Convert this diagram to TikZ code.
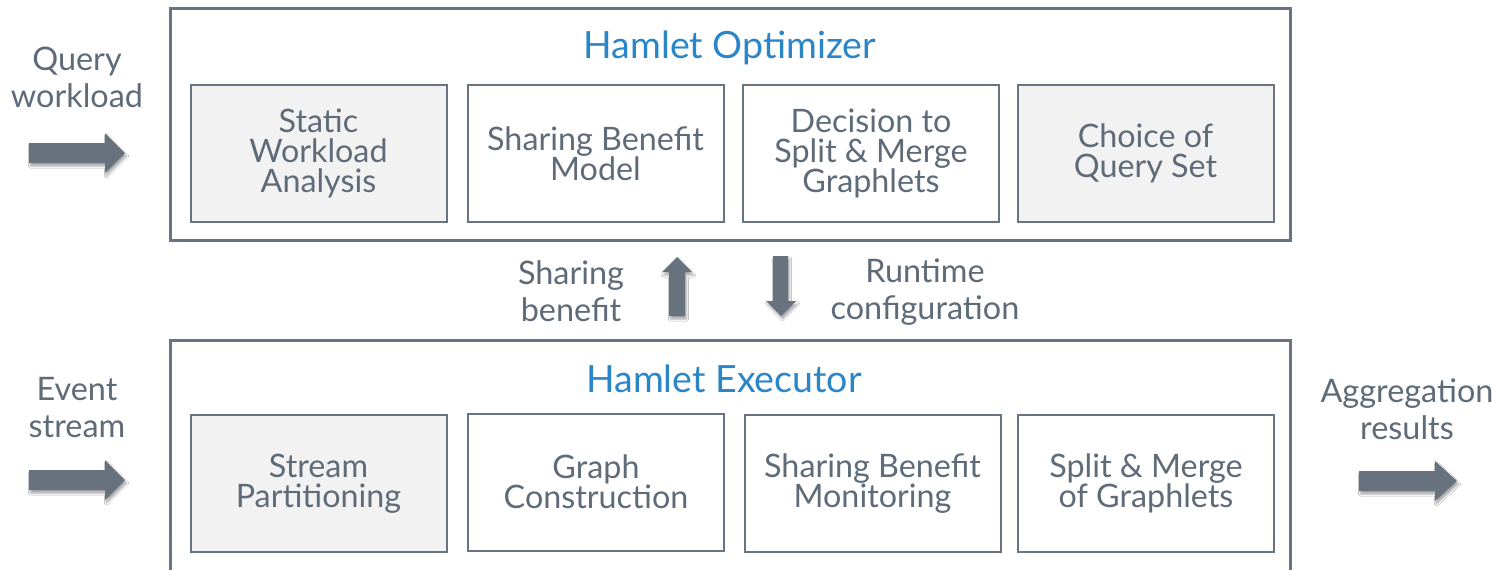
\documentclass[tikz,border=0pt]{standalone}
\usepackage{fontspec}
\setmainfont{Lato}
\usetikzlibrary{shadows.blur}

\definecolor{inktext}{HTML}{5F6B78}
\definecolor{inkline}{HTML}{6A7481}
\definecolor{inkarrow}{HTML}{67727E}
\definecolor{panelfill}{HTML}{F2F2F2}
\definecolor{titleblue}{HTML}{2A86C8}

\tikzset{
  frame/.style={draw=inkline, line width=3pt, fill=white, inner sep=0pt},
  module/.style={draw=inkline, line width=2pt, inner sep=0pt,
    minimum width=256pt, minimum height=137pt, text=inktext,
    font=\fontsize{32.3}{30}\selectfont, align=center},
  shaded/.style={module, fill=panelfill},
  plain/.style={module, fill=white},
  heading/.style={text=titleblue, font=\fontsize{37.5}{40}\selectfont, inner sep=0pt},
  caption/.style={text=inktext, font=\fontsize{32.4}{37}\selectfont, align=center, inner sep=0pt},
  blockarrow/.style={fill=inkarrow, draw=none,
    blur shadow={shadow xshift=1.5pt, shadow yshift=-3pt, shadow blur steps=6, shadow opacity=35}},
}

\begin{document}
\begin{tikzpicture}[x=1pt, y=-1pt]
  \clip (0,0) rectangle (1497,570);
  \fill[white] (0,0) rectangle (1497,570);

  % optimizer frame and its modules
  \node[frame, minimum width=1120pt, minimum height=232pt] (opt) at (730,124) {};
  \node[heading] (optT) at (730,48) {Hamlet Optimizer};
  \node[shaded] (swa) at (318.5,153.5) {Static\\Workload\\Analysis};
  \node[plain]  (sbm) at (595.5,153.5) {Sharing Benefit\\Model};
  \node[plain]  (dsm) at (871,153.5) {Decision to\\Split \& Merge\\Graphlets};
  \node[shaded] (cqs) at (1145.5,153.5) {Choice of\\Query Set};

  % executor frame and its modules (runs past the lower edge)
  \node[frame, minimum width=1120pt, minimum height=260pt] (exe) at (730,470) {};
  \node[heading] (exeT) at (724,379) {Hamlet Executor};
  \node[shaded] (spp) at (318.5,483.5) {Stream\\Partitioning};
  \node[plain]  (gcn) at (596,482) {Graph\\Construction};
  \node[plain]  (sbmo) at (872.5,483.5) {Sharing Benefit\\Monitoring};
  \node[plain]  (smg) at (1146,483.5) {Split \& Merge\\of Graphlets};

  % side captions
  \node[caption] (qw) at (77,77) {Query\\workload};
  \node[caption] (es) at (77,408) {Event\\stream};
  \node[caption] (ar) at (1407,409) {Aggregation\\results};
  \node[caption] (sb) at (571,291) {Sharing\\benefit};
  \node[caption] (rc) at (925,292) {Runtime\\configuration};

  % block arrows
  \fill[blockarrow] (29,143) -- (105,143) -- (105,133) -- (125,153) -- (105,173) -- (105,163) -- (29,163) -- cycle;
  \fill[blockarrow] (29,470) -- (105,470) -- (105,460) -- (125,480) -- (105,500) -- (105,490) -- (29,490) -- cycle;
  \fill[blockarrow] (1359,471) -- (1435,471) -- (1435,461) -- (1457,481) -- (1435,501) -- (1435,491) -- (1359,491) -- cycle;
  \fill[blockarrow] (669,316) -- (669,272) -- (662,272) -- (677,257) -- (692,272) -- (685,272) -- (685,316) -- cycle;
  \fill[blockarrow] (773,256) -- (788,256) -- (788,301) -- (796,301) -- (781,316) -- (766,301) -- (773,301) -- cycle;
\end{tikzpicture}
\end{document}
